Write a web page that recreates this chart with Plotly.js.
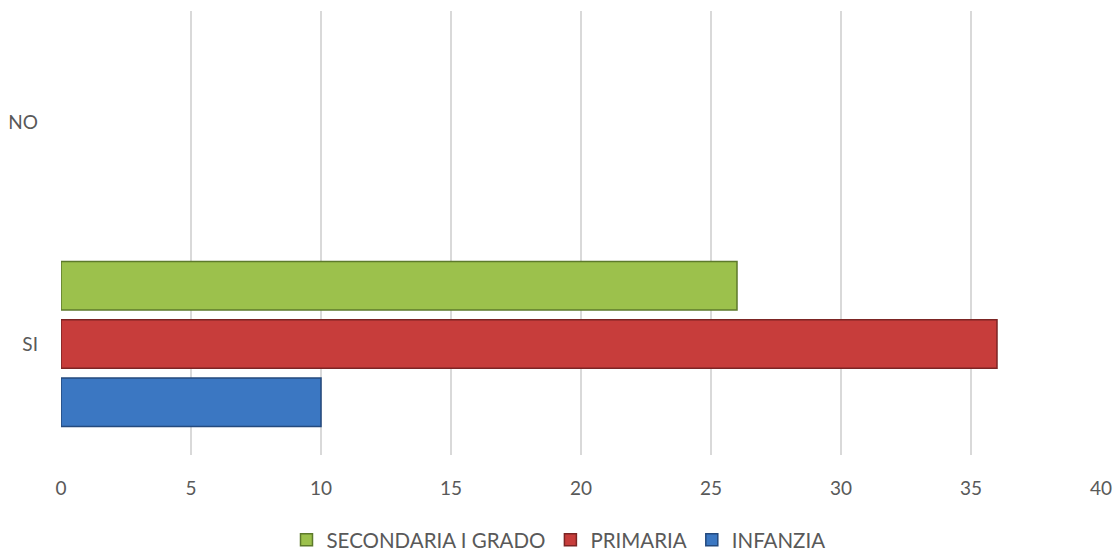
<!DOCTYPE html>
<html>
<head>
<meta charset="utf-8">
<script src="https://cdn.plot.ly/plotly-3.0.1.min.js"></script>
<style>html,body{margin:0;padding:0;background:#fff;}#chart{width:1117px;height:551px;}</style>
</head>
<body>
<div id="chart"></div>
<script>
var categories = ['SI', 'NO'];
var infanzia = [10, 0];
var primaria = [36, 0];
var secondaria = [26, 0];
var xTicks = [0, 5, 10, 15, 20, 25, 30, 35, 40];

function tr(name, vals, fill, line) {
  return {
    type: 'bar', orientation: 'h', name: name,
    y: categories, x: vals,
    marker: {color: fill, line: {color: line, width: vals.map(function(v){ return v > 0 ? 1.5 : 0; })}},
    hoverinfo: 'x+name'
  };
}
var data = [
  tr('INFANZIA', infanzia, '#3B77C2', '#244a7e'),
  tr('PRIMARIA', primaria, '#C73D3B', '#7c2524'),
  tr('SECONDARIA I GRADO', secondaria, '#9CC14C', '#5d7a2b')
];
var font = {family: 'Lato, "Open Sans", sans-serif', size: 19, color: '#595959'};
var legendFont = {family: 'Lato, "Open Sans", sans-serif', size: 20.5, color: '#595959'};
var layout = {
  width: 1117, height: 551,
  margin: {l: 61, r: 16, t: 11, b: 96},
  paper_bgcolor: '#fff', plot_bgcolor: '#fff',
  barmode: 'group', bargap: 0.213, bargroupgap: 0.164,
  font: font,
  xaxis: {
    range: [0, 40], tickvals: xTicks, ticktext: xTicks.map(String),
    showgrid: true, gridcolor: '#d9d9d9', gridwidth: 1.5,
    zeroline: false, showline: false, ticks: '', ticklen: 0,
    tickfont: font, ticklabelstandoff: 20, automargin: false, fixedrange: true
  },
  yaxis: {
    type: 'category', categoryorder: 'array', categoryarray: categories,
    showgrid: false, zeroline: false, showline: false, ticks: '',
    tickfont: font, ticklabelstandoff: 22, automargin: false, fixedrange: true
  },
  showlegend: true,
  legend: {
    orientation: 'h', x: 0.5, xanchor: 'center', xref: 'container',
    y: 0.02, yanchor: 'middle', yref: 'container',
    traceorder: 'reversed', font: legendFont, itemwidth: 30, itemclick: false
  }
};
Plotly.newPlot('chart', data, layout, {displayModeBar: false, staticPlot: true});
</script>
</body>
</html>
